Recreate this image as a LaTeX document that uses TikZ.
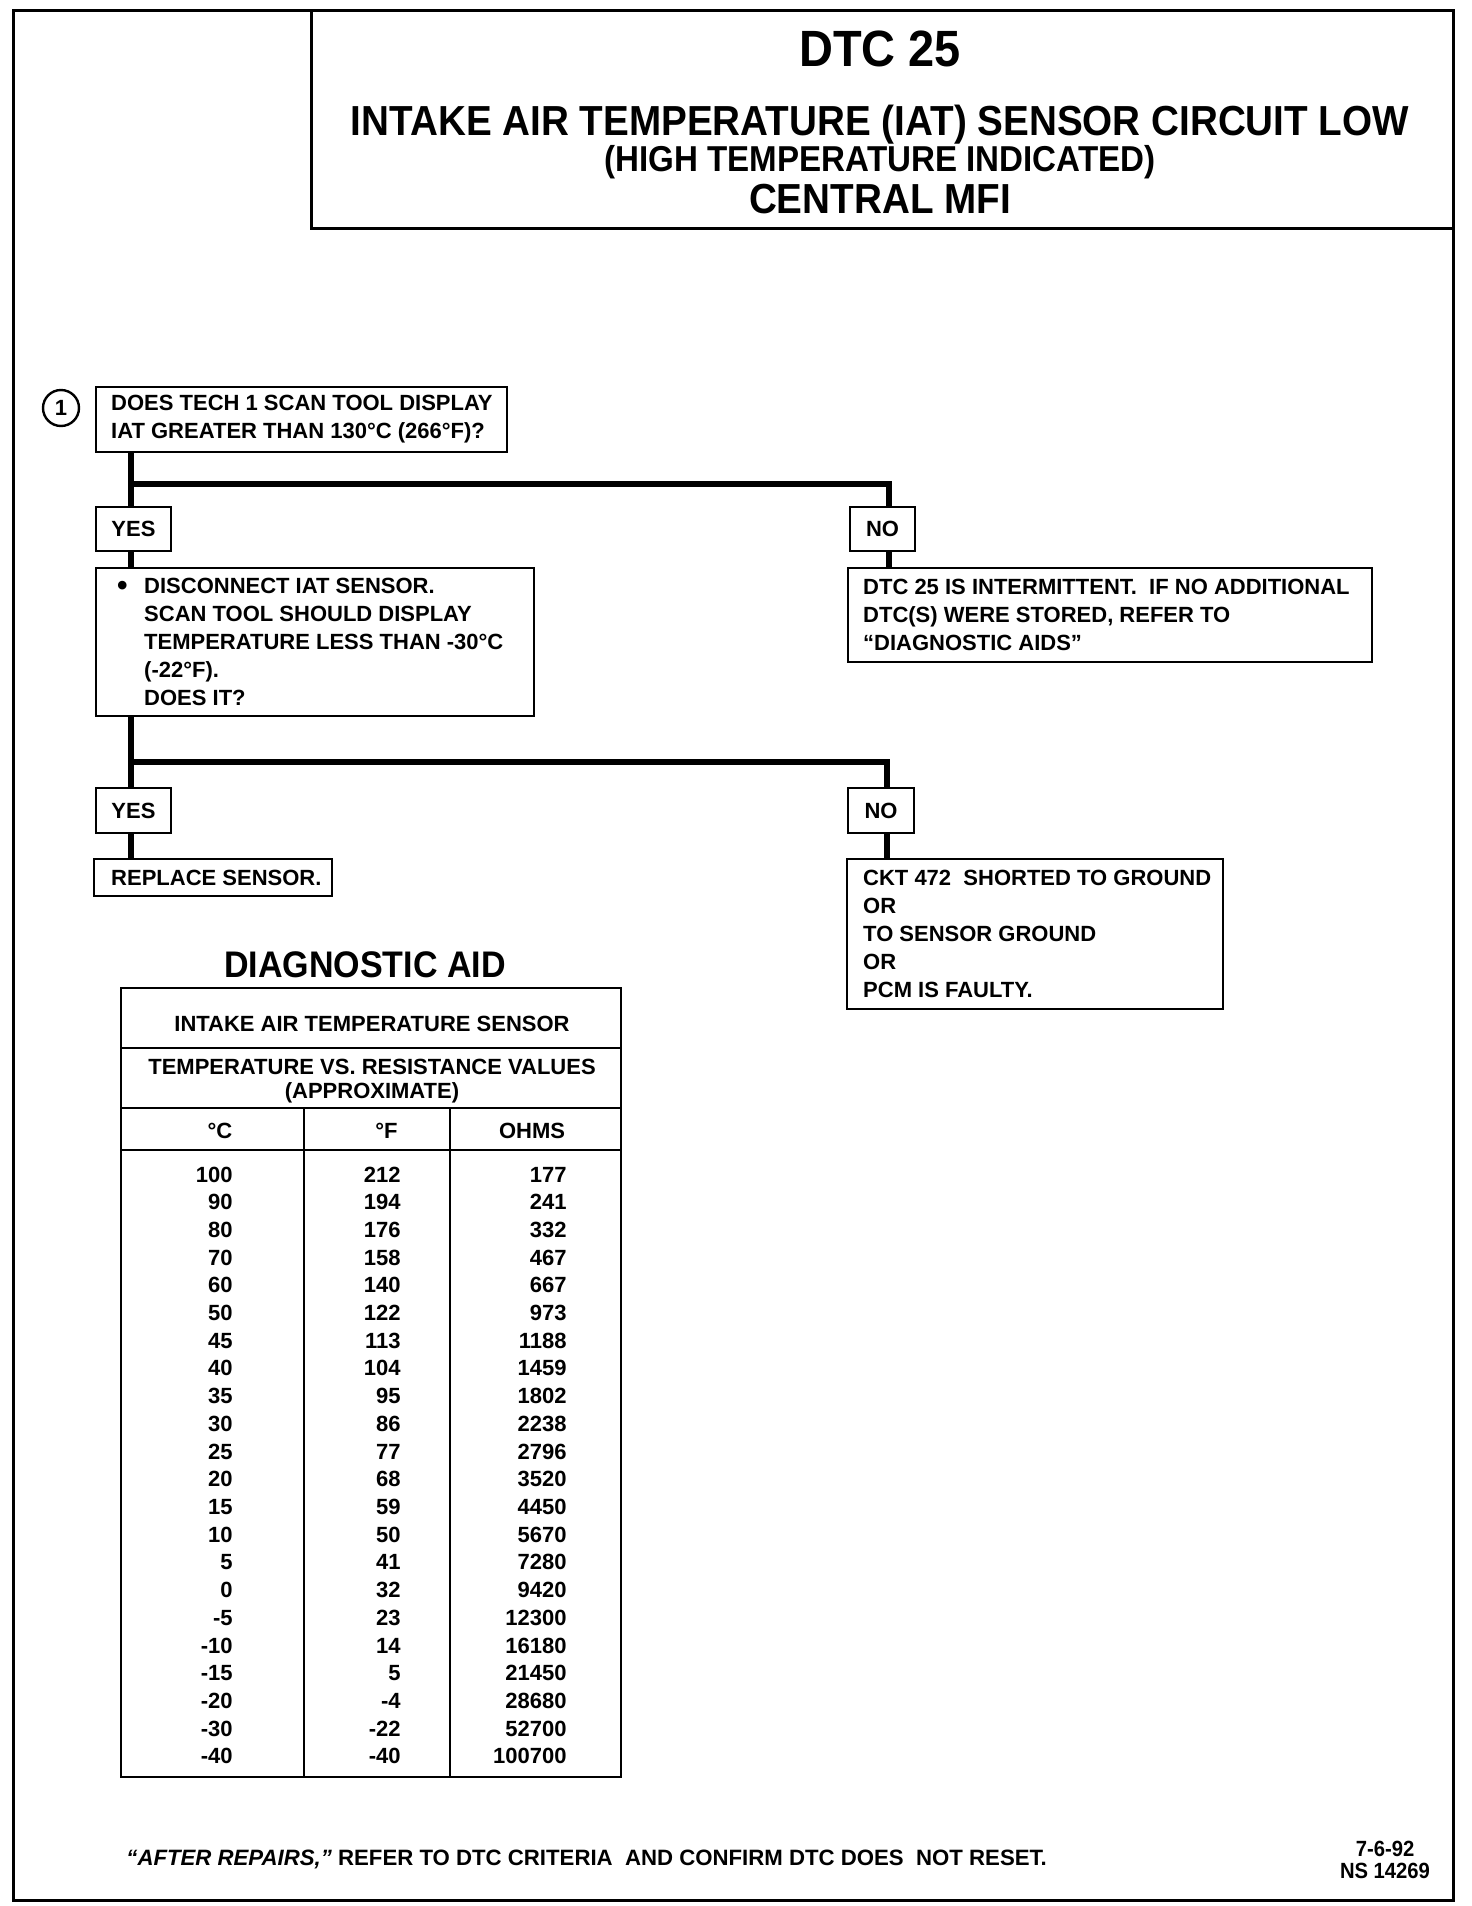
\documentclass[tikz,border=0pt]{standalone}
\usepackage{fontspec}
\setmainfont{Liberation Sans}
\newfontfamily\condfont[FakeStretch=0.92]{Liberation Sans}
\begin{document}
\begin{tikzpicture}[x=0.5pt,y=-0.5pt,
  font=\bfseries\fontsize{11}{14}\selectfont,
  box/.style={draw, line width=1.2pt, inner sep=0pt, rectangle},
  conn/.style={line width=2.8pt},
  txt/.style={inner sep=0pt},
  tline/.style={line width=1.2pt},
  ttl/.style={inner sep=0pt, anchor=base, font=\condfont\bfseries\fontsize{#1}{#1}\selectfont}]
\useasboundingbox (0,0) rectangle (1472,1906);
\fill[white] (0,0) rectangle (1472,1906);

% frame and title
\node[draw, line width=1.5pt, inner sep=0pt, anchor=north west, minimum width=720pt, minimum height=945pt] (frame) at (12,9) {};
\node[draw, line width=1.5pt, inner sep=0pt, anchor=north east, minimum width=571pt, minimum height=109pt] (titlebox) at (frame.north east) {};
\node[ttl=25.5] (t1) at (880,66.5) {DTC 25};
\node[ttl=21] (t2) at (880,135.5) {INTAKE AIR TEMPERATURE (IAT) SENSOR CIRCUIT LOW};
\node[ttl=18] (t3) at (880,171) {(HIGH TEMPERATURE INDICATED)};
\node[ttl=21] (t4) at (880,213.5) {CENTRAL MFI};

% step 1
\node[circle, draw, line width=1.2pt, minimum size=18pt, inner sep=0pt] (s1) at (61,408) {1};
\node[box, minimum width=205.5pt, minimum height=32.5pt] (q1) at (301.5,419.5) {};
\node[txt, align=left, anchor=west] (q1t) at ([xshift=8pt]q1.west) {DOES TECH 1 SCAN TOOL DISPLAY\\IAT GREATER THAN 130°C (266°F)?};

\node[box, minimum width=37.5pt, minimum height=22pt] (yes1) at (133.5,529) {YES};
\node[box, minimum width=32.5pt, minimum height=22pt] (no1) at (882.5,529) {NO};

\node[box, minimum width=219pt, minimum height=74pt] (q2) at (315,642) {};
\node[txt, align=left, anchor=west] (q2t) at ([xshift=11pt]q2.west) {\makebox[13.5pt][l]{\raisebox{-0.9pt}{\fontsize{15}{14}\selectfont\textbullet}}DISCONNECT IAT SENSOR.\\\hspace*{13.5pt}SCAN TOOL SHOULD DISPLAY\\\hspace*{13.5pt}TEMPERATURE LESS THAN -30°C\\\hspace*{13.5pt}(-22°F).\\\hspace*{13.5pt}DOES IT?};

\node[box, minimum width=262pt, minimum height=47pt] (r1) at (1110,615) {};
\node[txt, align=left, anchor=west] (r1t) at ([xshift=8pt]r1.west) {DTC 25 IS INTERMITTENT.\ \ IF NO ADDITIONAL\\DTC(S) WERE STORED, REFER TO\\“DIAGNOSTIC AIDS”};

\node[box, minimum width=37.5pt, minimum height=22.5pt] (yes2) at (133.5,810.5) {YES};
\node[box, minimum width=33pt, minimum height=22.5pt] (no2) at (881,810.5) {NO};

\node[box, minimum width=119pt, minimum height=18.5pt] (r2) at (213,877.5) {};
\node[txt, anchor=west] (r2t) at ([xshift=9pt]r2.west) {REPLACE SENSOR.};

\node[box, minimum width=188pt, minimum height=75pt] (r3) at (1035,934) {};
\node[txt, align=left, anchor=west] (r3t) at ([xshift=8.5pt]r3.west) {CKT 472\ \ SHORTED TO GROUND\\OR\\TO SENSOR GROUND\\OR\\PCM IS FAULTY.};

% connectors
\coordinate (j1) at (131,484);
\coordinate (k1) at (889,484);
\draw[conn] (q1.south -| j1) -- (yes1.north -| j1);
\draw[conn] (j1) -- (k1) -- (no1.north -| k1);
\draw[conn] (yes1.south -| j1) -- (q2.north -| j1);
\draw[conn] (no1.south -| k1) -- (r1.north -| k1);
\coordinate (j2) at (131,762);
\coordinate (k2) at (887,762);
\draw[conn] (q2.south -| j2) -- (yes2.north -| j2);
\draw[conn] (j2) -- (k2) -- (no2.north -| k2);
\draw[conn] (yes2.south -| j2) -- (r2.north -| j2);
\draw[conn] (no2.south -| k2) -- (r3.north -| k2);

% diagnostic aid table
\node[ttl=18.5] (da) at (365,977) {DIAGNOSTIC AID};
\node[box, anchor=north west, minimum width=250pt, minimum height=394.5pt] (tbl) at (120,987) {};
\draw[tline] (120,1048) -- (620,1048);
\draw[tline] (120,1108) -- (620,1108);
\draw[tline] (120,1150) -- (620,1150);
\draw[tline] (304,1108) -- (304,1776);
\draw[tline] (450,1108) -- (450,1776);
\node[txt, anchor=base] (h1) at (372,1031) {INTAKE AIR TEMPERATURE SENSOR};
\node[txt, anchor=base] (h2) at (372,1074) {TEMPERATURE VS. RESISTANCE VALUES};
\node[txt, anchor=base] (h3) at (372,1098) {(APPROXIMATE)};
\node[txt, anchor=base] (hc) at (220,1138) {°C};
\node[txt, anchor=base] (hf) at (386.5,1138) {°F};
\node[txt, anchor=base] (ho) at (532,1138) {OHMS};
\foreach \c/\f/\o [count=\i from 0] in {100/212/177,90/194/241,80/176/332,70/158/467,60/140/667,50/122/973,45/113/1188,40/104/1459,35/95/1802,30/86/2238,25/77/2796,20/68/3520,15/59/4450,10/50/5670,5/41/7280,0/32/9420,-5/23/12300,-10/14/16180,-15/5/21450,-20/-4/28680,-30/-22/52700,-40/-40/100700}{
  \node[txt, anchor=base east] (c\i) at (233,1182+27.71*\i) {\c};
  \node[txt, anchor=base east] (f\i) at (401,1182+27.71*\i) {\f};
  \node[txt, anchor=base east] (o\i) at (567,1182+27.71*\i) {\o};
}

% footer
\node[txt, anchor=base west, font=\bfseries\fontsize{11.1}{13}\selectfont] (foot) at (126,1865) {\textit{“AFTER REPAIRS,”} REFER TO DTC CRITERIA\ \ AND CONFIRM DTC DOES\ \ NOT RESET.};
\node[txt, anchor=base, font=\condfont\bfseries\fontsize{11}{11}\selectfont] (d1) at (1385,1856) {7-6-92};
\node[txt, anchor=base, font=\condfont\bfseries\fontsize{11}{11}\selectfont] (d2) at (1385,1878) {NS 14269};
\end{tikzpicture}
\end{document}
